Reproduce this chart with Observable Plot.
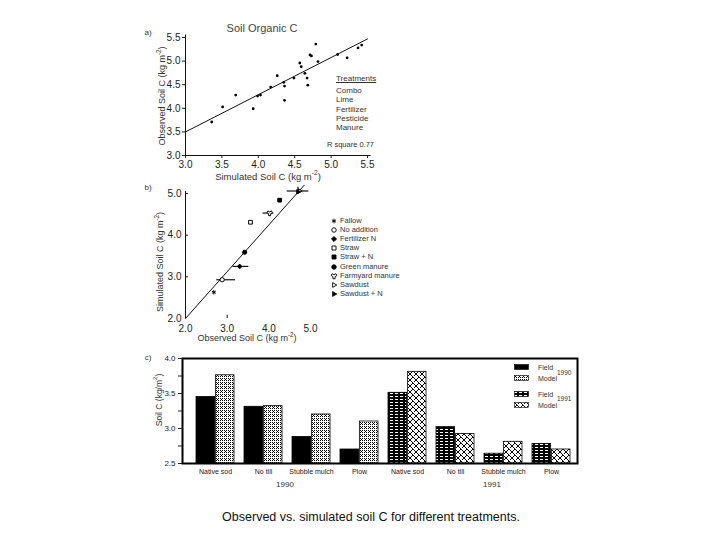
<!DOCTYPE html>
<html><head><meta charset="utf-8">
<script src="https://cdn.jsdelivr.net/npm/d3@7"></script>
<script src="https://cdn.jsdelivr.net/npm/@observablehq/plot@0.6"></script>
<style>
html,body{margin:0;padding:0;background:#fff;}
#root{position:relative;width:720px;height:540px;font-family:"Liberation Sans",Arial,sans-serif;color:#333;overflow:hidden;background:#fff;}
.abs{position:absolute;white-space:nowrap;line-height:1;}
sup{font-size:70%;vertical-align:top;position:relative;top:-2px;}
</style></head><body>
<div id="root">
<svg width="0" height="0" style="position:absolute;left:0;top:0">
<defs>
<pattern id="pm90" width="4" height="4" patternUnits="userSpaceOnUse">
 <rect width="4" height="4" fill="#fff"/>
 <rect x="0" y="0" width="1" height="1" fill="#000"/>
 <rect x="2" y="0" width="1" height="1" fill="#000"/>
 <rect x="1" y="1" width="1" height="1" fill="#000"/>
 <rect x="0" y="2" width="1" height="1" fill="#000"/>
 <rect x="2" y="2" width="1" height="1" fill="#000"/>
</pattern>
<pattern id="pf91" width="5" height="3" patternUnits="userSpaceOnUse">
 <rect width="5" height="3" fill="#000"/>
 <rect x="0" y="1" width="3" height="1" fill="#fff"/>
</pattern>
<pattern id="pm91" width="6" height="6" patternUnits="userSpaceOnUse">
 <rect width="6" height="6" fill="#fff"/>
 <rect x="0" y="0" width="1" height="1" fill="#000"/>
 <rect x="1" y="1" width="1" height="1" fill="#000"/>
 <rect x="2" y="2" width="1" height="1" fill="#000"/>
 <rect x="3" y="3" width="1" height="1" fill="#000"/>
 <rect x="4" y="4" width="1" height="1" fill="#000"/>
 <rect x="5" y="5" width="1" height="1" fill="#000"/>
 <rect x="5" y="0" width="1" height="1" fill="#000"/>
 <rect x="4" y="1" width="1" height="1" fill="#000"/>
 <rect x="2" y="3" width="1" height="1" fill="#000"/>
 <rect x="1" y="4" width="1" height="1" fill="#000"/>
 <rect x="0" y="5" width="1" height="1" fill="#000"/>
</pattern>
</defs></svg>
</div>
<script>
// ---------- Panel a: Soil Organic C (simulated vs observed) ----------
const simA = [3.36,3.51,3.69,3.93,3.99,4.03,4.17,4.26,4.35,4.36,4.36,4.49,4.57,4.59,4.64,4.67,4.68,4.71,4.73,4.79,4.82,5.09,5.22,5.37,5.42];
const obsA = [3.71,4.03,4.28,3.99,4.26,4.28,4.45,4.69,4.55,4.47,4.17,4.64,4.96,4.88,4.74,4.64,4.49,5.13,5.11,5.36,4.99,5.14,5.07,5.28,5.34];
const fitAx = [3.0, 5.5];
const fitAy = [3.5, 5.47];
const ticksA = [3.0, 3.5, 4.0, 4.5, 5.0, 5.5];
const treatmentsA = ["Combo", "Lime", "Fertilizer", "Pesticide", "Manure"];
const rsqA = "R square 0.77";

// ---------- Panel b: observed vs simulated by treatment ----------
const treatB = ["Fallow","No addition","Fertilizer N","Straw","Straw + N","Green manure","Farmyard manure","Sawdust","Sawdust + N"];
const symB = ["asterisk","circle","diamond2","square","square","circle","wye","triangle2","triangle2"];
const filledB = [false,false,true,false,true,true,false,false,true];
const rotB = [0,0,0,0,0,0,0,90,90];
const obsB = [2.68,2.88,3.30,3.56,4.26,3.42,4.02,4.74,4.70];
const simB = [2.63,2.93,3.25,4.31,4.84,3.59,4.53,5.06,5.04];
const xLoB = [null,2.75,3.14,null,null,null,3.86,4.44,null];
const xHiB = [null,3.20,3.52,null,null,null,4.12,4.96,null];
const yLoB = [null,null,null,null,null,null,null,null,5.00];
const yHiB = [null,null,null,null,null,null,null,null,5.15];
const fitBx = [2.0, 4.85];
const fitBy = [2.0, 5.20];
const ticksB = [2.0, 3.0, 4.0, 5.0];

// ---------- Panel c: Soil C bars ----------
const catsC = ["Native sod","No till","Stubble mulch","Plow","Native sod","No till","Stubble mulch","Plow"];
const yearsC = [1990,1990,1990,1990,1991,1991,1991,1991];
const fieldC = [3.45,3.31,2.88,2.70,3.51,3.02,2.64,2.78];
const modelC = [3.76,3.32,3.20,3.10,3.81,2.92,2.81,2.70];
const baseC = 2.5;
const yTicksC = [2.5,2.75,3.0,3.25,3.5,3.75,4.0];
const yearLabels = ["1990","1991"];
const legendC = [
  {name:"Field", year:"1990", fill:"#000"},
  {name:"Model", year:"1990", fill:"url(#pm90)"},
  {name:"Field", year:"1991", fill:"url(#pf91)"},
  {name:"Model", year:"1991", fill:"url(#pm91)"}
];
const caption = "Observed vs. simulated soil C for different treatments.";

const root = document.getElementById("root");
const FONT = "Liberation Sans, Arial, sans-serif";
function label(html, x, y, o = {}) {
  const {size = 9, anchor = "middle", rotate = false, color = "#333", underline = false} = o;
  const d = document.createElement("div");
  d.className = "abs";
  d.innerHTML = html;
  d.style.left = x + "px"; d.style.top = y + "px";
  d.style.fontSize = size + "px"; d.style.color = color;
  if (underline) d.style.textDecoration = "underline";
  const tx = anchor === "middle" ? "-50%" : anchor === "end" ? "-100%" : "0";
  d.style.transform = `translate(${tx},-50%)` + (rotate ? " rotate(-90deg)" : "");
  root.appendChild(d);
  return d;
}
function place(node, left, top) {
  node.style.position = "absolute";
  node.style.left = left + "px"; node.style.top = top + "px";
  node.style.overflow = "visible";
  root.appendChild(node);
}
const baseStyle = {fontFamily: FONT, fontSize: "9px", color: "#222", background: "transparent", overflow: "visible"};

// ===== Panel a =====
const rowsA = simA.map((s, i) => ({sim: s, obs: obsA[i]}));
const fitA = fitAx.map((x, i) => ({x, y: fitAy[i]}));
const plotA = Plot.plot({
  width: 250, height: 170, marginLeft: 45, marginRight: 23, marginTop: 22, marginBottom: 30,
  style: baseStyle,
  x: {domain: [3, 5.5]}, y: {domain: [3, 5.5]},
  marks: [
    Plot.ruleX([3], {y1: 3, y2: 5.55, stroke: "#111"}),
    Plot.ruleY([3], {x1: 3, x2: 5.55, stroke: "#111"}),
    Plot.axisX({ticks: ticksA, tickSize: 3, tickPadding: 2, tickFormat: d3.format(".1f"), label: null, fontSize: 10}),
    Plot.axisY({ticks: ticksA, tickSize: 3, tickPadding: 2, tickFormat: d3.format(".1f"), label: null, fontSize: 10}),
    Plot.line(fitA, {x: "x", y: "y", stroke: "#111", strokeWidth: 1}),
    Plot.dot(rowsA, {x: "sim", y: "obs", r: 1.4, fill: "#000", stroke: "none"})
  ]
});
place(plotA, 140, 15);
label("a)", 148, 33, {size: 8});
label("Soil Organic C", 262, 28, {size: 11, color: "#444"});
label("Observed Soil C (kg m<sup>-2</sup>)", 162, 96, {size: 9, rotate: true});
label("Simulated Soil C (kg m<sup>-2</sup>)", 268, 177, {size: 9.5});
label("Treatments", 336, 79, {size: 8, anchor: "start", underline: true});
treatmentsA.forEach((t, i) => label(t, 336, 91 + i * 9.3, {size: 8, anchor: "start"}));
label(rsqA, 374, 145, {size: 7.5, anchor: "end"});

// ===== Panel b =====
const rowsB = treatB.map((t, i) => ({t, obs: obsB[i], sim: simB[i], fill: filledB[i] ? "#000" : "#fff",
  rot: rotB[i], xlo: xLoB[i], xhi: xHiB[i], ylo: yLoB[i], yhi: yHiB[i]}));
const fitB = fitBx.map((x, i) => ({x, y: fitBy[i]}));
const plotB = Plot.plot({
  width: 260, height: 160, marginLeft: 45, marginRight: 90, marginTop: 13, marginBottom: 22,
  style: baseStyle,
  x: {domain: [2, 5]}, y: {domain: [2, 5]},
  symbol: {domain: treatB, range: symB},
  color: {type: "identity"},
  marks: [
    Plot.ruleX([2], {y1: 2, y2: 5.05, stroke: "#111"}),
    Plot.ruleY(ticksB.slice(1), {x1: 2, x2: 2.07, stroke: "#111"}),
    Plot.ruleX([3], {y1: 2, y2: 2.08, stroke: "#111"}),
    Plot.axisY({ticks: ticksB, tickSize: 0, tickPadding: 4, tickFormat: d3.format(".1f"), label: null, fontSize: 10}),
    Plot.axisX({ticks: ticksB, tickSize: 0, tickPadding: 6, tickFormat: d3.format(".1f"), label: null, fontSize: 10}),
    Plot.line(fitB, {x: "x", y: "y", stroke: "#111", strokeWidth: 1}),
    Plot.ruleY(rowsB.filter(d => d.xlo != null), {y: "sim", x1: "xlo", x2: "xhi", stroke: "#111", strokeWidth: 1.2}),
    Plot.ruleX(rowsB.filter(d => d.ylo != null), {x: "obs", y1: "ylo", y2: "yhi", stroke: "#111", strokeWidth: 1.2}),
    Plot.dot(rowsB, {x: "obs", y: "sim", symbol: "t", fill: "fill", stroke: "#000", strokeWidth: 1, r: 2.1, rotate: "rot"})
  ]
});
place(plotB, 140, 180);
label("b)", 148, 188, {size: 8});
label("Simulated Soil C (kg m<sup>-2</sup>)", 160, 262, {size: 9, rotate: true});
label("Observed Soil C (kg m<sup>-2</sup>)", 247, 338, {size: 9});
// legend b (symbols drawn with d3 from the same symbol names)
const d3sym = {asterisk: d3.symbolAsterisk, circle: d3.symbolCircle, diamond2: d3.symbolDiamond2, square: d3.symbolSquare,
  wye: d3.symbolWye, triangle2: d3.symbolTriangle2};
treatB.forEach((t, i) => {
  const y = 221 + i * 9.1;
  const s = d3.create("svg").attr("width", 8).attr("height", 8);
  s.append("path").attr("d", d3.symbol(d3sym[symB[i]], 16)())
    .attr("transform", `translate(4,4) rotate(${rotB[i]})`)
    .attr("fill", filledB[i] ? "#000" : "#fff").attr("stroke", "#000").attr("stroke-width", 0.9);
  const n = s.node(); n.style.position = "absolute"; n.style.left = "330px"; n.style.top = (y - 4) + "px";
  root.appendChild(n);
  label(t, 340, y, {size: 7.5, anchor: "start"});
});

// ===== Panel c =====
const rowsC = catsC.map((c, i) => ({key: c + "|" + yearsC[i], year: yearsC[i], field: fieldC[i], model: modelC[i],
  ff: yearsC[i] === 1990 ? "#000" : "url(#pf91)", mf: yearsC[i] === 1990 ? "url(#pm90)" : "url(#pm91)"}));
const half = 19.37;
const plotC = Plot.plot({
  width: 445, height: 150, marginLeft: 42, marginRight: 8, marginTop: 8, marginBottom: 37,
  style: baseStyle,
  x: {domain: rowsC.map(d => d.key), paddingInner: 0.2, paddingOuter: 0.178, align: 0.66},
  y: {domain: [2.5, 4.0]},
  color: {type: "identity"},
  marks: [
    Plot.barY(rowsC, {x: "key", y1: baseC, y2: "field", fill: "ff", stroke: "#000", strokeWidth: 0.8, insetRight: half}),
    Plot.barY(rowsC, {x: "key", y1: baseC, y2: "model", fill: "mf", stroke: "#000", strokeWidth: 0.8, insetLeft: half}),
    Plot.frame({stroke: "#000", strokeWidth: 2}),
    Plot.axisY({ticks: yTicksC, tickSize: 4, tickPadding: 3, label: null, fontSize: 8,
      tickFormat: d => (Math.round(d * 4) % 2 === 0 ? d.toFixed(1) : "")}),
    Plot.axisX({tickSize: 0, tickPadding: 6, label: null, fontSize: 7, tickFormat: k => k.split("|")[0]})
  ]
});
place(plotC, 140, 350);
label("c)", 148, 358, {size: 8});
label("Soil C (kg/m<sup>2</sup>)", 159, 400, {size: 8.5, rotate: true});
label(yearLabels[0], 285, 485, {size: 8});
label(yearLabels[1], 492, 485, {size: 8});
// legend c
const legY = [366.5, 378, 394, 405];
legendC.forEach((l, i) => {
  const s = d3.create("svg").attr("width", 15).attr("height", 6);
  s.append("rect").attr("x", 0.5).attr("y", 0.5).attr("width", 14).attr("height", 5)
    .attr("fill", l.fill).attr("stroke", "#000").attr("stroke-width", 0.6);
  const n = s.node(); n.style.position = "absolute"; n.style.left = "514px"; n.style.top = (legY[i] - 3) + "px";
  root.appendChild(n);
  label(l.name, 538, legY[i], {size: 7, anchor: "start"});
});
label(legendC[1].year, 557, 373, {size: 6.5, anchor: "start"});
label(legendC[3].year, 557, 399, {size: 6.5, anchor: "start"});

// caption
label(caption, 371, 517, {size: 12.5, color: "#111"});
</script>
</body></html>
